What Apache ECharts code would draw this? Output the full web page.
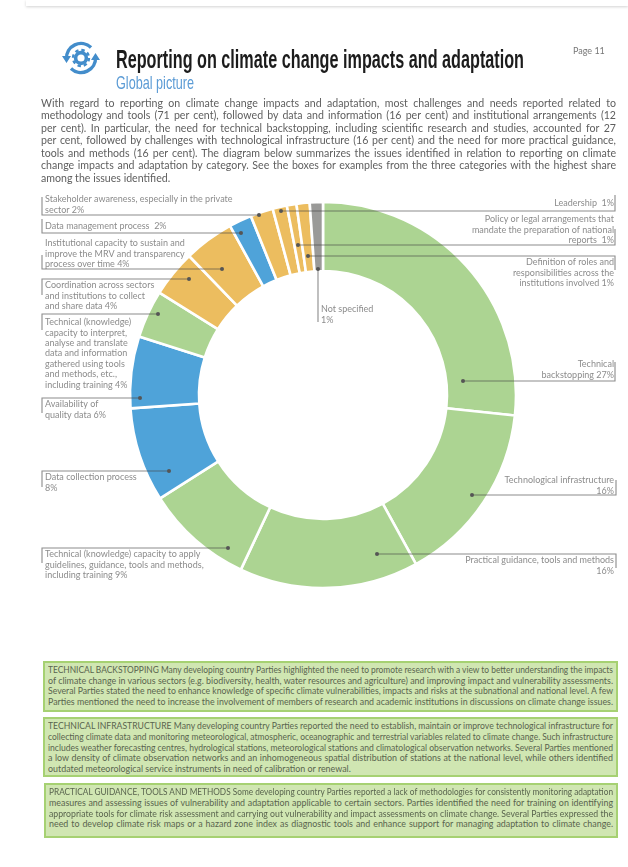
<!DOCTYPE html>
<html>
<head>
<meta charset="utf-8">
<title>Reporting on climate change impacts and adaptation</title>
<script src="https://cdn.jsdelivr.net/npm/echarts@6/dist/echarts.min.js"></script>
<style>
html,body{margin:0;padding:0;background:#fff;}
#page{position:relative;width:628px;height:867px;overflow:hidden;font-family:Lato,sans-serif;filter:blur(0.4px);}
#topbar{position:absolute;left:26px;right:0;top:0;height:6px;background:#fff;box-shadow:0 1px 3px rgba(0,0,0,.18);}
#chart{position:absolute;left:0;top:0;width:628px;height:867px;}
#icon{position:absolute;left:62px;top:40px;}
#title{position:absolute;left:116px;top:44px;font:bold 26px "Liberation Sans",sans-serif;color:#1c1c1c;white-space:nowrap;transform-origin:0 0;}
#sub{position:absolute;left:116px;top:72px;font:19px "Liberation Sans",sans-serif;color:#5b9bd5;white-space:nowrap;transform-origin:0 0;}
#pageno{position:absolute;left:573px;top:45px;font-size:9px;color:#777;}
.para{position:absolute;left:41px;width:575px;top:97px;font-size:10.6px;line-height:12.45px;color:#5e5e5e;}
.para div,.box div{text-align:justify;text-align-last:justify;white-space:nowrap;transform-origin:0 0;}
.para div.last,.box div.last{text-align-last:left;}
.box{position:absolute;box-sizing:border-box;background:#d0e6b2;border:2px solid #a6d172;font-size:8.9px;color:#59644e;padding:2px 3px;}
</style>
</head>
<body>
<div id="page">
  <div id="topbar"></div>
  <div id="chart"></div>
  <svg id="icon" width="38" height="36" viewBox="0 0 38 36">
    <g fill="none" stroke="#438dcb" stroke-width="3.4">
      <path d="M4.5 19 A14.5 14.5 0 0 1 29 7.5"/>
      <path d="M33.5 17 A14.5 14.5 0 0 1 9 28.5"/>
      <circle cx="19" cy="18" r="5.4" stroke-width="3.6"/>
      <circle cx="19" cy="18" r="8" stroke-width="2.4" stroke-dasharray="3.4 2.9"/>
    </g>
    <path d="M0 16 L9 16 L4.5 23 Z M29 20 L38 20 L33.5 13 Z" fill="#438dcb"/>
  </svg>
  <div id="title">Reporting on climate change impacts and adaptation</div>
  <div id="sub">Global picture</div>
  <div id="pageno">Page 11</div>
  <div class="para" id="para"></div>
  <div class="box" id="box0" style="left:43px;top:661px;width:575px;height:51px;"></div>
  <div class="box" id="box1" style="left:43px;top:717px;width:575px;height:60px;"></div>
  <div class="box" id="box2" style="left:44px;top:783px;width:574px;height:55px;"></div>
</div>
<script>
var categories = ['Technical backstopping','Technological infrastructure','Practical guidance, tools and methods',
  'Technical capacity to apply','Data collection process','Availability of quality data','Technical capacity to interpret',
  'Coordination across sectors','Institutional capacity','Data management process','Stakeholder awareness',
  'Leadership','Policy or legal arrangements','Definition of roles','Not specified'];
var shares = [26.7,15.3,15.0,9.0,7.9,6.0,4.0,3.9,4.2,1.9,1.9,1.2,0.8,1.1,1.1];
var sliceGroups = ['green','green','green','green','blue','blue','green','orange','orange','blue','orange','orange','orange','orange','gray'];
var labelTexts = [
  'Technical\nbackstopping 27%',
  'Technological infrastructure\n16%',
  'Practical guidance, tools and methods\n16%',
  'Technical (knowledge) capacity to apply\nguidelines, guidance, tools and methods,\nincluding training 9%',
  'Data collection process\n8%',
  'Availability of\nquality data 6%',
  'Technical (knowledge)\ncapacity to interpret,\nanalyse and translate\ndata and information\ngathered using tools\nand methods, etc.,\nincluding training 4%',
  'Coordination across sectors\nand institutions to collect\nand share data 4%',
  'Institutional capacity to sustain and\nimprove the MRV and transparency\nprocess over time 4%',
  'Data management process  2%',
  'Stakeholder awareness, especially in the private\nsector 2%',
  'Leadership  1%',
  'Policy or legal arrangements that\nmandate the preparation of national\nreports  1%',
  'Definition of roles and\nresponsibilities across the\ninstitutions involved 1%',
  'Not specified\n1%'
];
var paraLines = [
  'With regard to reporting on climate change impacts and adaptation, most challenges and needs reported related to',
  'methodology and tools (71 per cent), followed by data and information (16 per cent) and institutional arrangements (12',
  'per cent). In particular, the need for technical backstopping, including scientific research and studies, accounted for 27',
  'per cent, followed by challenges with technological infrastructure (16 per cent) and the need for more practical guidance,',
  'tools and methods (16 per cent). The diagram below summarizes the issues identified in relation to reporting on climate',
  'change impacts and adaptation by category. See the boxes for examples from the three categories with the highest share',
  'among the issues identified.'
];
var boxLines = [[
  'TECHNICAL BACKSTOPPING Many developing country Parties highlighted the need to promote research with a view to better understanding the impacts',
  'of climate change in various sectors (e.g. biodiversity, health, water resources and agriculture) and improving impact and vulnerability assessments.',
  'Several Parties stated the need to enhance knowledge of specific climate vulnerabilities, impacts and risks at the subnational and national level. A few',
  'Parties mentioned the need to increase the involvement of members of research and academic institutions in discussions on climate change issues.'
],[
  'TECHNICAL INFRASTRUCTURE Many developing country Parties reported the need to establish, maintain or improve technological infrastructure for',
  'collecting climate data and monitoring meteorological, atmospheric, oceanographic and terrestrial variables related to climate change. Such infrastructure',
  'includes weather forecasting centres, hydrological stations, meteorological stations and climatological observation networks. Several Parties mentioned',
  'a low density of climate observation networks and an inhomogeneous spatial distribution of stations at the national level, while others identified',
  'outdated meteorological service instruments in need of calibration or renewal.'
],[
  'PRACTICAL GUIDANCE, TOOLS AND METHODS Some developing country Parties reported a lack of methodologies for consistently monitoring adaptation',
  'measures and assessing issues of vulnerability and adaptation applicable to certain sectors. Parties identified the need for training on identifying',
  'appropriate tools for climate risk assessment and carrying out vulnerability and impact assessments on climate change. Several Parties expressed the',
  'need to develop climate risk maps or a hazard zone index as diagnostic tools and enhance support for managing adaptation to climate change.'
]];

var groupColors = {green:'#acd492', blue:'#4fa3d9', orange:'#ecbd5f', gray:'#9a9a98'};

// label anchor [x, y of first line, align] and leader polyline, per slice
var labelPos = [
  [614,359,'right'],[614,475,'right'],[614,555,'right'],[45,549,'left'],[45,472,'left'],[45,399,'left'],[45,317,'left'],
  [45,280,'left'],[45,238,'left'],[45,221,'left'],[45,194,'left'],[614,198,'right'],[614,214,'right'],[614,257,'right'],[321,304,'left']
];
var leaders = [
  [[463,381],[615,381],[615,362]],
  [[472,495],[616,495],[616,480]],
  [[377,554],[616,554],[616,568]],
  [[228,548],[42,548],[42,563]],
  [[169,471],[42,471],[42,487]],
  [[140,398],[42,398],[42,413]],
  [[158,314],[42,314],[42,330]],
  [[189,279],[42,279],[42,295]],
  [[222,269],[42,269],[42,255]],
  [[241,233],[42,233],[42,219]],
  [[259,215],[42,215],[42,197]],
  [[281,211],[615,211],[615,195]],
  [[298,245],[615,245],[615,229]],
  [[308,256],[615,256],[615,270]],
  [[318,269],[318,322]]
];

// squeeze a nowrap element horizontally so it fits the width the line has in the picture
function squeeze(el, target, always) {
  var r = document.createRange();
  r.selectNodeContents(el);
  var w = r.getBoundingClientRect().width;
  if (always || w > target) {
    el.style.width = w + 'px';
    el.style.transform = 'scaleX(' + (target / w) + ')';
  }
}
function fillLines(el, lines, lineHeight, target) {
  lines.forEach(function(t, i){
    var d = document.createElement('div');
    d.textContent = t;
    d.style.lineHeight = lineHeight + 'px';
    if (i == lines.length - 1 && t.length < 100) d.className = 'last';
    el.appendChild(d);
    squeeze(d, target, false);
  });
}
fillLines(document.getElementById('para'), paraLines, 12.45, 575);
fillLines(document.getElementById('box0'), boxLines[0], 10.7, 565);
fillLines(document.getElementById('box1'), boxLines[1], 10.8, 565);
fillLines(document.getElementById('box2'), boxLines[2], 10.8, 564);
squeeze(document.getElementById('title'), 408, true);
squeeze(document.getElementById('sub'), 78, true);

var chart = echarts.init(document.getElementById('chart'), null, {renderer:'canvas'});

var graphics = [];
leaders.forEach(function(pts){
  graphics.push({type:'polyline', silent:true, z:10, shape:{points:pts},
    style:{fill:null, stroke:'rgba(70,70,70,0.62)', lineWidth:1.1}});
  graphics.push({type:'circle', silent:true, z:11, shape:{cx:pts[0][0], cy:pts[0][1], r:2},
    style:{fill:'#555'}});
});

var seriesData = categories.map(function(name, i){
  return {name:name, value:shares[i], itemStyle:{color:groupColors[sliceGroups[i]]}};
});

var option = {
  animation:false,
  graphic:graphics,
  series:[{
    type:'pie',
    silent:true,
    center:[323,395],
    radius:[124,193],
    startAngle:90,
    avoidLabelOverlap:false,
    itemStyle:{borderColor:'#fff', borderWidth:2.6},
    label:{
      show:true,
      color:'#8c8c8c',
      fontFamily:'Lato',
      fontSize:9,
      lineHeight:10.4,
      formatter:function(p){ return labelTexts[p.dataIndex]; }
    },
    labelLine:{show:false},
    labelLayout:function(p){
      var a = labelPos[p.dataIndex];
      return {x:a[0], y:a[1], align:a[2], verticalAlign:'top', hideOverlap:false};
    },
    data:seriesData
  }]
};
chart.setOption(option);
</script>
</body>
</html>
